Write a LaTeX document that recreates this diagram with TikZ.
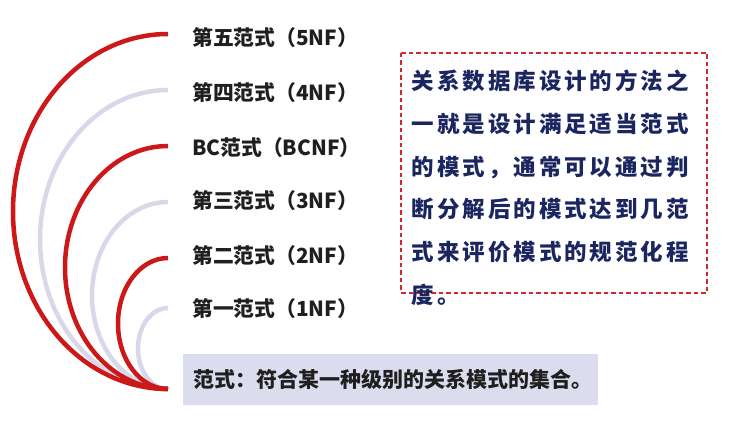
\documentclass[tikz,border=0pt]{standalone}
\usepackage{fontspec}
\usepackage{tikz}
\usetikzlibrary{positioning, calc}
\setmainfont{Noto Sans CJK SC}
\usepackage{xcolor}
\definecolor{nfred}{RGB}{204, 24, 24}
\definecolor{nfgray}{RGB}{216, 216, 234}
\definecolor{nfbox}{RGB}{219, 220, 237}
\definecolor{nfnavy}{RGB}{27, 38, 96}
\definecolor{nfdash}{RGB}{210, 40, 50}

\begin{document}
\begin{tikzpicture}[x=1pt, y=1pt,
  redarc/.style={line width=4.5pt, draw=nfred},
  grayarc/.style={line width=4.5pt, draw=nfgray},
  nflabel/.style={anchor=west, inner sep=0pt, font=\fontsize{20.8}{24}\selectfont\bfseries, text=black!88}]
  \useasboundingbox (0,0) rectangle (740,421);
  \coordinate (base) at (168,32);
  \coordinate (t5) at (168,387);
  \coordinate (t4) at (168,331);
  \coordinate (tbc) at (168,275);
  \coordinate (t3) at (168,219);
  \coordinate (t2) at (168,163);
  \coordinate (t1) at (168,113);
  % light arcs underneath
  \draw[grayarc] (t4) arc[start angle=90, end angle=270, x radius=128, y radius=149.5];
  \draw[grayarc] (t3) arc[start angle=90, end angle=270, x radius=76, y radius=93.5];
  \draw[grayarc] (t1) arc[start angle=90, end angle=270, x radius=30, y radius=40.5];
  % red arcs on top
  \draw[redarc] (t5) arc[start angle=90, end angle=270, x radius=155, y radius=177.5];
  \draw[redarc] (tbc) arc[start angle=90, end angle=270, x radius=103, y radius=121.5];
  \draw[redarc] (t2) arc[start angle=90, end angle=270, x radius=50, y radius=65.5];

  \node[nflabel] (nf5) at (192,383.5) {第五范式（5NF）};
  \node[nflabel] (nf4) at (192,328.5) {第四范式（4NF）};
  \node[nflabel] (bcnf) at (192,273.5) {BC范式（BCNF）};
  \node[nflabel] (nf3) at (192,220) {第三范式（3NF）};
  \node[nflabel] (nf2) at (192,165) {第二范式（2NF）};
  \node[nflabel] (nf1) at (192,112) {第一范式（1NF）};

  \node[fill=nfbox, anchor=west, inner xsep=10pt, inner ysep=0pt, minimum height=51pt,
        text width=395pt, align=left, font=\fontsize{21}{24}\selectfont\bfseries, text=black!88]
        (defbox) at (183,41.5) {范式：符合某一种级别的关系模式的集合。};

  % dashed frame round the note
  \draw[nfdash, line width=1.1pt, dash pattern=on 4.5pt off 3pt] (401,368) rectangle (707,128);
  \node[anchor=north west, inner sep=0pt, align=left, text=nfnavy,
        font=\fontsize{22.5}{42.7}\selectfont\bfseries\addfontfeature{LetterSpace=13}]
        (note) at (411.7,351) {关系数据库设计的方法之\\一就是设计满足适当范式\\的模式，通常可以通过判\\断分解后的模式达到几范\\式来评价模式的规范化程\\度。};
\end{tikzpicture}
\end{document}
